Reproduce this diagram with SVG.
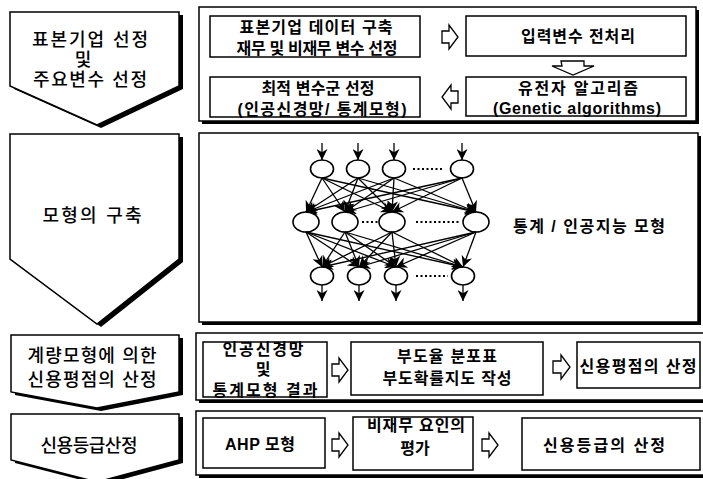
<svg xmlns="http://www.w3.org/2000/svg" width="703" height="479" viewBox="0 0 703 479">
<defs>
<style>
.stage{fill:#fff;stroke:#000;stroke-width:1.5}
.shadow{fill:#000}
.panel{fill:#fff;stroke:#000;stroke-width:1.5}
.box{fill:#fff;stroke:#000;stroke-width:1.5}
.hollow{fill:#fff;stroke:#000;stroke-width:1.3}
.lt{font-family:"Liberation Sans","Noto Sans CJK KR",sans-serif;font-size:18px;font-weight:500;fill:#000;text-anchor:middle}
.bt{font-family:"Liberation Sans","Noto Sans CJK KR",sans-serif;font-size:16px;font-weight:bold;fill:#000;text-anchor:middle}
.node{fill:#fff;stroke:#000;stroke-width:1.6}
.edge{stroke:#000;stroke-width:1.3;fill:none}
.dots{stroke:#000;stroke-width:2;stroke-dasharray:2 2.5}
</style>
<marker id="ah" viewBox="0 0 10 10" refX="10" refY="5" markerWidth="13" markerHeight="11" markerUnits="userSpaceOnUse" orient="auto">
<path d="M0,0 L10,5 L0,10 L3,5 z" fill="#000"/>
</marker>
</defs>

<g id="stage1">
<polygon class="shadow" points="14,15 183,15 183,89 101,128 14,89"/>
<polygon class="stage" points="10,12 179,12 179,86 97,125 10,86"/>
<text class="lt" x="90" y="46" textLength="116">표본기업 선정</text>
<text class="lt" x="83" y="66">및</text>
<text class="lt" x="90" y="86" textLength="114">주요변수 선정</text>
</g>

<g id="stage2">
<polygon class="shadow" points="14,137 183,137 183,262 101,327 14,262"/>
<polygon class="stage" points="10,134 179,134 179,259 97,324 10,259"/>
<text class="lt" x="92" y="222" textLength="99">모형의 구축</text>
</g>

<g id="stage3">
<polygon class="shadow" points="15,338 183,338 183,395 101,411 15,395"/>
<polygon class="stage" points="11,335 179,335 179,392 97,408 11,392"/>
<text class="lt" x="92" y="362" textLength="129">계량모형에 의한</text>
<text class="lt" x="92" y="386" textLength="129">신용평점의 산정</text>
</g>

<g id="stage4">
<polygon class="shadow" points="15,417 183,417 183,463 101,485 15,463"/>
<polygon class="stage" points="11,414 179,414 179,460 97,482 11,460"/>
<text class="lt" x="89" y="452" textLength="97">신용등급산정</text>
</g>

<g id="panel1">
<rect class="shadow" x="202" y="10" width="497" height="114"/>
<rect class="panel" x="199" y="7" width="497" height="114"/>
</g>
<g id="box-sample">
<rect class="box" x="210" y="16" width="210" height="41"/>
<text class="bt" x="316" y="33" textLength="153">표본기업 데이터 구축</text>
<text class="bt" x="317" y="54" textLength="161">재무 및 비재무 변수 선정</text>
</g>
<g id="box-preprocess">
<rect class="box" x="466" y="16" width="220" height="40"/>
<text class="bt" x="578" y="42" textLength="114">입력변수 전처리</text>
</g>
<g id="box-optimal">
<rect class="box" x="210" y="77" width="210" height="40"/>
<text class="bt" x="318" y="94" textLength="113">최적 변수군 선정</text>
<text class="bt" x="322" y="115" textLength="169">(인공신경망/ 통계모형)</text>
</g>
<g id="box-ga">
<rect class="box" x="466" y="77" width="220" height="39"/>
<text class="bt" x="578" y="94" textLength="120">유전자 알고리즘</text>
<text class="bt" x="577" y="114" textLength="168">(Genetic algorithms)</text>
</g>

<g id="panel2">
<rect class="shadow" x="202" y="136" width="499" height="189"/>
<rect class="panel" x="199" y="133" width="499" height="189"/>
</g>
<g id="network">
<g id="layer-in">
<ellipse class="node" cx="322" cy="169" rx="11.5" ry="9"/>
<ellipse class="node" cx="358" cy="169" rx="11.5" ry="9"/>
<ellipse class="node" cx="394" cy="169" rx="11.5" ry="9"/>
<ellipse class="node" cx="462" cy="169" rx="11.5" ry="9"/>
<line class="dots" x1="413" y1="169" x2="444" y2="169"/>
</g>
<g id="layer-hidden">
<ellipse class="node" cx="306" cy="222" rx="13" ry="10"/>
<ellipse class="node" cx="345" cy="222" rx="13" ry="10"/>
<ellipse class="node" cx="392" cy="222" rx="13" ry="10"/>
<ellipse class="node" cx="476" cy="222" rx="13" ry="10"/>
<line class="dots" x1="362" y1="222" x2="379" y2="222"/>
<line class="dots" x1="416" y1="222" x2="460" y2="222"/>
</g>
<g id="layer-out">
<ellipse class="node" cx="322" cy="276" rx="11.5" ry="9"/>
<ellipse class="node" cx="359" cy="276" rx="11.5" ry="9"/>
<ellipse class="node" cx="396" cy="276" rx="11.5" ry="9"/>
<ellipse class="node" cx="463" cy="276" rx="11.5" ry="9"/>
<line class="dots" x1="416" y1="276" x2="448" y2="276"/>
</g>
<text class="bt" x="589" y="232" textLength="152">통계 / 인공지능 모형</text>
</g>

<g id="panel3">
<rect class="shadow" x="199" y="336" width="510" height="67"/>
<rect class="panel" x="196" y="333" width="510" height="67"/>
</g>
<g id="box-results">
<rect class="box" x="203" y="342" width="124" height="55"/>
<text class="bt" x="263" y="355" textLength="81">인공신경망</text>
<text class="bt" x="263" y="375">및</text>
<text class="bt" x="265" y="396" textLength="105">통계모형 결과</text>
</g>
<g id="box-default">
<rect class="box" x="351" y="342" width="192" height="53"/>
<text class="bt" x="447" y="362" textLength="100">부도율 분포표</text>
<text class="bt" x="447" y="384" textLength="129">부도확률지도 작성</text>
</g>
<g id="box-score">
<rect class="box" x="577" y="342" width="123" height="46"/>
<text class="bt" x="638" y="372" textLength="117">신용평점의 산정</text>
</g>

<g id="panel4">
<rect class="shadow" x="199" y="414" width="510" height="64"/>
<rect class="panel" x="196" y="411" width="510" height="64"/>
</g>
<g id="box-ahp">
<rect class="box" x="203" y="418" width="122" height="50"/>
<text class="bt" x="260" y="450" textLength="70">AHP 모형</text>
</g>
<g id="box-nonfin">
<rect class="box" x="353" y="417" width="120" height="53"/>
<text class="bt" x="416" y="431" textLength="98">비재무 요인의</text>
<text class="bt" x="415" y="454">평가</text>
</g>
<g id="box-grade">
<rect class="box" x="522" y="418" width="178" height="52"/>
<text class="bt" x="604" y="451" textLength="122">신용등급의 산정</text>
</g>

<g id="connectors">
<path class="hollow" d="M442,31 h7 v-6 l9,12 l-9,12 v-6 h-7 z"/>
<path class="hollow" d="M561,61 h23 v5 h10 l-21,9 l-21,-9 h10 z"/>
<path class="hollow" d="M458,91 h-7 v-6 l-9,12 l9,12 v-6 h7 z"/>
<path class="hollow" d="M332,364 h7 v-6 l9,12 l-9,12 v-6 h-7 z"/>
<path class="hollow" d="M553,361 h8 v-6 l9,12 l-9,12 v-6 h-8 z"/>
<path class="hollow" d="M332,439 h7 v-6 l9,12 l-9,12 v-6 h-7 z"/>
<path class="hollow" d="M482,439 h7 v-6 l9,12 l-9,12 v-6 h-7 z"/>
<g id="net-in" class="edge" marker-end="url(#ah)">
<line x1="322" y1="143" x2="322" y2="160"/>
<line x1="358" y1="143" x2="358" y2="160"/>
<line x1="394" y1="143" x2="394" y2="160"/>
<line x1="462" y1="143" x2="462" y2="160"/>
</g>
<g id="net-l1" class="edge" marker-end="url(#ah)">
<line x1="322" y1="178" x2="306" y2="212"/><line x1="322" y1="178" x2="345" y2="212"/><line x1="322" y1="178" x2="392" y2="212"/><line x1="322" y1="178" x2="476" y2="212"/>
<line x1="358" y1="178" x2="306" y2="212"/><line x1="358" y1="178" x2="345" y2="212"/><line x1="358" y1="178" x2="392" y2="212"/><line x1="358" y1="178" x2="476" y2="212"/>
<line x1="394" y1="178" x2="306" y2="212"/><line x1="394" y1="178" x2="345" y2="212"/><line x1="394" y1="178" x2="392" y2="212"/><line x1="394" y1="178" x2="476" y2="212"/>
<line x1="462" y1="178" x2="306" y2="212"/><line x1="462" y1="178" x2="345" y2="212"/><line x1="462" y1="178" x2="392" y2="212"/><line x1="462" y1="178" x2="476" y2="212"/>
</g>
<g id="net-l2" class="edge" marker-end="url(#ah)">
<line x1="306" y1="232" x2="322" y2="267"/><line x1="306" y1="232" x2="359" y2="267"/><line x1="306" y1="232" x2="396" y2="267"/><line x1="306" y1="232" x2="463" y2="267"/>
<line x1="345" y1="232" x2="322" y2="267"/><line x1="345" y1="232" x2="359" y2="267"/><line x1="345" y1="232" x2="396" y2="267"/><line x1="345" y1="232" x2="463" y2="267"/>
<line x1="392" y1="232" x2="322" y2="267"/><line x1="392" y1="232" x2="359" y2="267"/><line x1="392" y1="232" x2="396" y2="267"/><line x1="392" y1="232" x2="463" y2="267"/>
<line x1="476" y1="232" x2="322" y2="267"/><line x1="476" y1="232" x2="359" y2="267"/><line x1="476" y1="232" x2="396" y2="267"/><line x1="476" y1="232" x2="463" y2="267"/>
</g>
<g id="net-out" class="edge" marker-end="url(#ah)">
<line x1="322" y1="285" x2="322" y2="301"/>
<line x1="359" y1="285" x2="359" y2="301"/>
<line x1="396" y1="285" x2="396" y2="301"/>
<line x1="463" y1="285" x2="463" y2="301"/>
</g>
</g>
</svg>
